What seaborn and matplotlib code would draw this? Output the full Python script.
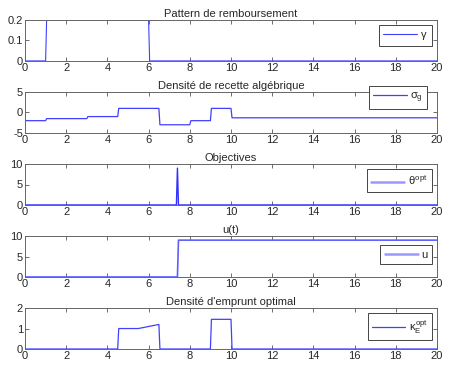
import numpy as np
import pandas as pd
import matplotlib
matplotlib.use("Agg")
import matplotlib.pyplot as plt
import seaborn as sns

# ---- data ----
t_gamma = [0, 1.0, 1.05, 6.0, 6.05, 20]
gamma = [0, 0, 0.2, 0.2, 0, 0]

t_sigma = [0, 1.0, 1.05, 3.0, 3.05, 4.5, 4.55, 6.5, 6.55, 8.0, 8.05, 9.0, 9.05, 10.0, 10.05, 20]
sigma = [-2, -2, -1.5, -1.5, -1, -1, 1, 1, -3, -3, -2, -2, 1, 1, -1.3, -1.3]

t_theta = [0, 7.35, 7.4, 7.45, 20]
theta = [0, 0, 9, 0, 0]

t_u = [0, 7.4, 7.45, 20]
u = [0, 0, 9, 9]

t_kappa = [0, 4.5, 4.55, 5.5, 6.5, 6.55, 9.0, 9.05, 10.0, 10.05, 20]
kappa = [0, 0, 1.0, 1.0, 1.2, 0, 0, 1.45, 1.45, 0, 0]

titles = ["Pattern de remboursement", "Densité de recette algébrique",
          "Objectives", "u(t)", "Densité d'emprunt optimal"]
labels = [r"$\gamma$", r"$\sigma_g$", r"$\theta^{opt}$", "u", r"$\kappa_E^{opt}$"]
ylims = [(0, 0.2), (-5, 5), (0, 10), (0, 10), (0, 2)]
yticks = [[0, 0.1, 0.2], [-5, 0, 5], [0, 5, 10], [0, 5, 10], [0, 1, 2]]
xticks = list(range(0, 21, 2))

sns.set_theme(style="white")
plt.rcParams["font.family"] = ["Liberation Sans", "DejaVu Sans"]
plt.rcParams["mathtext.fontset"] = "custom"
plt.rcParams["mathtext.rm"] = "Liberation Sans"
plt.rcParams["mathtext.it"] = "Liberation Sans"

fig, axes = plt.subplots(5, 1, figsize=(4.51, 3.66), dpi=100)
fig.subplots_adjust(left=25/451, right=437/451, top=1-20/366, bottom=1-349/366, hspace=0.76)

series = [(t_gamma, gamma), (t_sigma, sigma), (t_theta, theta), (t_u, u), (t_kappa, kappa)]
colors = ["#4040ff", "#4040ff", "#3030ff", "#6060ff", "#4040ff"]
lws = [0.8, 0.9, 1.0, 1.2, 0.9]
leg_anchor = [(0.988, 0.875), (0.976, 1.146), (0.988, 0.875), (0.988, 0.78), (0.988, 0.878)]
fs = 8

for i, ax in enumerate(axes):
    x, y = series[i]
    df = pd.DataFrame({"t": x, "v": y})
    sns.lineplot(data=df, x="t", y="v", ax=ax, estimator=None, sort=False,
                 color=colors[i], lw=lws[i], label=labels[i])
    ax.set_xlim(0, 20)
    ax.set_ylim(*ylims[i])
    ax.set_xticks(xticks)
    ax.set_yticks(yticks[i])
    ax.set_yticklabels([("%g" % v) for v in yticks[i]])
    ax.set_xlabel("")
    ax.set_ylabel("")
    ax.set_title(titles[i], fontsize=fs, pad=2)
    ax.tick_params(direction="in", length=3, width=0.6, labelsize=fs, pad=1.5,
                   top=True, right=True, bottom=True, left=True, color="#555555")
    for s in ax.spines.values():
        s.set_visible(True)
        s.set_color("#666666")
        s.set_linewidth(0.7)
    leg = ax.legend(loc="upper right", bbox_to_anchor=leg_anchor[i], fontsize=fs,
                    fancybox=False, framealpha=1, edgecolor="#444444",
                    handlelength=3.0, borderpad=0.4, handletextpad=0.3, borderaxespad=0)
    leg.get_frame().set_linewidth(0.7)
    for ln in leg.get_lines():
        if i in (2, 3):
            ln.set_color("#9999ff")
            ln.set_linewidth(1.8)

fig.savefig("out.png", dpi=100)
